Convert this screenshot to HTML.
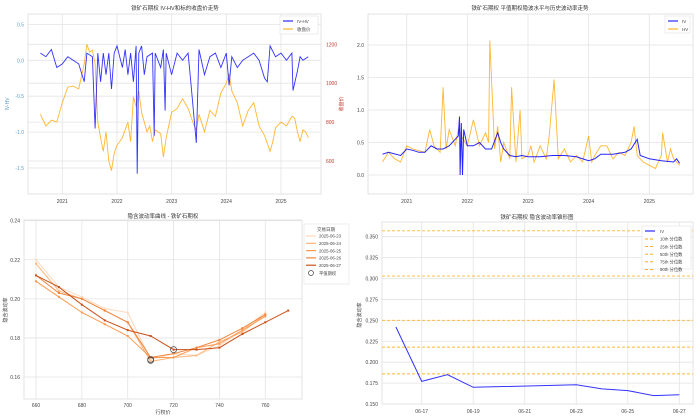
<!DOCTYPE html>
<html><head><meta charset="utf-8">
<style>
body{margin:0;background:#fff;}
svg{display:block;font-family:"Liberation Sans","Noto Sans CJK SC",sans-serif;}
</style></head>
<body>
<svg id="c" width="700" height="419" viewBox="0 0 700 419" xmlns="http://www.w3.org/2000/svg"></svg>
<script>
// ---------- Panel 1 data ----------
const p1PriceT=[2020.6,2020.7,2020.8,2020.9,2021.0,2021.1,2021.2,2021.3,2021.4,2021.45,2021.5,2021.55,2021.6,2021.65,2021.7,2021.75,2021.8,2021.85,2021.9,2021.95,2022.0,2022.1,2022.2,2022.25,2022.3,2022.35,2022.4,2022.45,2022.5,2022.55,2022.6,2022.65,2022.7,2022.8,2022.85,2022.9,2023.0,2023.1,2023.2,2023.3,2023.4,2023.45,2023.5,2023.6,2023.7,2023.8,2023.9,2024.0,2024.05,2024.1,2024.2,2024.3,2024.4,2024.5,2024.6,2024.7,2024.8,2024.85,2024.9,2025.0,2025.1,2025.2,2025.25,2025.3,2025.35,2025.4,2025.45,2025.5];
const p1Price=[840,780,810,800,900,980,985,970,1100,1200,1160,1170,1100,800,720,650,750,600,550,640,680,720,800,700,930,880,960,850,800,750,780,700,760,740,620,720,850,870,920,870,790,760,840,750,860,830,950,1000,1050,960,900,780,860,900,780,730,650,700,770,800,780,830,820,750,700,760,750,720];
const p1DiffT=[2020.6,2020.7,2020.8,2020.9,2021.0,2021.1,2021.3,2021.4,2021.45,2021.55,2021.6,2021.65,2021.7,2021.75,2021.8,2021.85,2021.9,2021.95,2022.0,2022.1,2022.15,2022.2,2022.25,2022.3,2022.35,2022.37,2022.4,2022.45,2022.5,2022.55,2022.65,2022.68,2022.7,2022.8,2022.85,2022.88,2022.9,2023.0,2023.1,2023.2,2023.3,2023.35,2023.45,2023.5,2023.6,2023.7,2023.8,2023.9,2024.0,2024.05,2024.1,2024.2,2024.3,2024.4,2024.5,2024.6,2024.7,2024.75,2024.8,2024.9,2025.0,2025.1,2025.2,2025.22,2025.3,2025.35,2025.4,2025.5];
const p1Diff=[0.1,0.05,0.15,-0.1,-0.05,0.05,-0.05,-0.3,0.1,0.05,-0.95,0.1,-0.3,0.1,-0.2,0.1,-0.4,0.1,0.2,-0.1,0.15,-0.2,0.1,-0.3,0.2,-1.58,0.1,0.2,-0.2,0.05,0.1,-1.05,0.1,-0.1,0.15,-0.7,0.1,-0.2,0.1,0.0,0.1,-0.3,-1.15,0.15,-0.2,0.05,0.1,-0.1,0.1,-0.35,0.05,-0.1,0.0,0.05,0.1,0.0,-0.25,-0.3,0.2,0.05,0.1,0.0,0.1,-0.42,-0.15,0.05,0.0,0.05];
const p1YTicks=[0.5,0.0,-0.5,-1.0,-1.5];
const p1RTicks=[1200,1000,800,600];
const yearTicks=[2021,2022,2023,2024,2025];
// ---------- Panel 2 data ----------
const p2HvT=[2020.6,2020.7,2020.8,2020.9,2021.0,2021.1,2021.3,2021.38,2021.45,2021.55,2021.6,2021.65,2021.7,2021.8,2021.85,2021.9,2022.0,2022.1,2022.2,2022.3,2022.35,2022.37,2022.45,2022.5,2022.55,2022.6,2022.7,2022.73,2022.8,2022.87,2022.9,2023.0,2023.05,2023.1,2023.2,2023.3,2023.35,2023.43,2023.5,2023.6,2023.7,2023.8,2023.9,2024.0,2024.05,2024.1,2024.2,2024.3,2024.4,2024.5,2024.6,2024.7,2024.75,2024.8,2024.9,2025.0,2025.1,2025.2,2025.22,2025.3,2025.35,2025.4,2025.5];
const p2Hv=[0.2,0.35,0.25,0.2,0.45,0.4,0.35,0.7,0.45,0.35,1.35,0.4,0.7,0.45,0.7,0.6,0.45,0.85,0.45,0.65,0.5,2.07,0.4,0.75,0.2,0.5,0.25,1.35,0.2,1.0,0.25,0.3,0.45,0.2,0.45,0.25,0.6,1.47,0.25,0.4,0.2,0.3,0.2,0.6,0.2,0.3,0.45,0.45,0.25,0.35,0.3,0.5,0.75,0.3,0.2,0.15,0.1,0.3,0.65,0.2,0.4,0.25,0.15];
const p2IvT=[2020.6,2020.7,2020.9,2021.0,2021.1,2021.2,2021.3,2021.4,2021.5,2021.6,2021.7,2021.8,2021.85,2021.87,2021.88,2021.9,2021.92,2021.94,2022.0,2022.1,2022.2,2022.3,2022.4,2022.5,2022.55,2022.6,2022.7,2022.8,2022.9,2023.0,2023.2,2023.4,2023.6,2023.8,2024.0,2024.1,2024.2,2024.4,2024.6,2024.7,2024.8,2024.85,2025.0,2025.2,2025.4,2025.45,2025.5];
const p2Iv=[0.32,0.35,0.3,0.4,0.38,0.35,0.35,0.45,0.4,0.4,0.45,0.55,0.6,0.9,0.0,0.8,0.0,0.7,0.45,0.45,0.5,0.4,0.4,0.65,0.5,0.4,0.3,0.28,0.3,0.28,0.28,0.3,0.3,0.28,0.22,0.25,0.32,0.32,0.35,0.4,0.55,0.3,0.25,0.22,0.2,0.25,0.18];
const p2YTicks=[0.0,0.5,1.0,1.5,2.0];
// ---------- Panel 3 data ----------
const strikes=[660,670,680,690,700,710,720,730,740,750,760,770];
const smileDates=["2025-06-23","2025-06-24","2025-06-25","2025-06-26","2025-06-27"];
const smile23=[0.220,0.206,0.201,0.195,0.193,0.169,0.172,0.171,0.176,0.184,0.193,null];
const smile24=[0.218,0.204,0.200,0.194,0.188,0.168,0.170,0.171,0.178,0.183,0.192,null];
const smile25=[0.209,0.201,0.193,0.187,0.181,0.170,0.170,0.175,0.177,0.184,0.191,null];
const smile26=[0.212,0.203,0.200,0.194,0.188,0.170,0.172,0.175,0.179,0.185,0.192,null];
const smile27=[0.212,0.206,0.197,0.189,0.184,0.181,0.174,0.174,0.175,0.182,0.188,0.194];
const atmStrikes=[710,710,720];
const atmIv=[0.169,0.1685,0.174];
const p3YTicks=[0.16,0.18,0.20,0.22,0.24];
const p3XTicks=[660,680,700,720,740,760];
// ---------- Panel 4 data ----------
const termDays=[16,17,18,19,23,24,25,26,27];
const termIv=[0.242,0.177,0.185,0.170,0.173,0.168,0.166,0.160,0.161];
const qLabels=["10th 分位数","25th 分位数","50th 分位数","75th 分位数","90th 分位数"];
const qValues=[0.186,0.218,0.250,0.303,0.357];
const p4YTicks=[0.150,0.175,0.200,0.225,0.250,0.275,0.300,0.325,0.350];
const p4XTicks=[17,19,21,23,25,27];

const NS="http://www.w3.org/2000/svg";
const svg=document.getElementById('c');
function mk(tag,attrs,parent,txt){const e=document.createElementNS(NS,tag);for(const k in attrs)e.setAttribute(k,attrs[k]);if(txt!==undefined)e.textContent=txt;(parent||svg).appendChild(e);return e;}
function lin(d0,d1,r0,r1){return v=>r0+(v-d0)/(d1-d0)*(r1-r0);}
function frame(x0,y0,x1,y1,name){
  const g=mk('g',{});
  mk('rect',{x:x0,y:y0,width:x1-x0,height:y1-y0,fill:'#fff',stroke:'#ddd','stroke-width':0.8},g);return g;}
function grid(g,x0,y0,x1,y1,xs,ys){
  xs.forEach(x=>mk('line',{x1:x,y1:y0,x2:x,y2:y1,stroke:'#e3e3e3','stroke-width':0.8},g));
  ys.forEach(y=>mk('line',{x1:x0,y1:y,x2:x1,y2:y,stroke:'#e3e3e3','stroke-width':0.8},g));}
function pathOf(xs,ys,fx,fy){let d='';xs.forEach((x,i)=>{if(ys[i]===null)return;d+=(d?'L':'M')+fx(x).toFixed(1)+','+fy(ys[i]).toFixed(1);});return d;}
function txt(g,x,y,s,opt){const o=Object.assign({x:x,y:y,'font-size':5,fill:'#444'},opt||{});return mk('text',o,g,s);}

// ===== Panel 1 =====
(function(){
  const X0=28,Y0=14,X1=321,Y1=194;
  const fx=lin(2021,2025,62.3,281),fy=lin(0,-1.5,60.3,168),fr=lin(1200,600,44.3,161);
  const g=frame(X0,Y0,X1,Y1,'iv-hv-price-chart');
  grid(g,X0,Y0,X1,Y1,yearTicks.map(fx),p1YTicks.map(fy).concat(p1RTicks.map(fr)));
  txt(g,175,10,'铁矿石期权 IV-HV和标的收盘价走势',{'text-anchor':'middle','font-size':5.5,fill:'#333'});
  p1YTicks.forEach(v=>txt(g,X0-4,fy(v)+2,v.toFixed(1),{'text-anchor':'end',fill:'#5a9fd0'}));
  p1RTicks.forEach(v=>txt(g,X1+5,fr(v)+2,v,{fill:'#c0392b'}));
  yearTicks.forEach(v=>txt(g,fx(v),203,v,{'text-anchor':'middle'}));
  txt(g,9,104,'IV-HV',{'text-anchor':'middle',fill:'#5a9fd0',transform:'rotate(-90 9 104)'});
  txt(g,343,104,'收盘价',{'text-anchor':'middle',fill:'#c0392b',transform:'rotate(-90 343 104)'});
  const pr=mk('path',{d:pathOf(p1PriceT,p1Price,fx,fr),fill:'none',stroke:'orange','stroke-width':0.9,opacity:0.8},g);
  
  const df=mk('path',{d:pathOf(p1DiffT,p1Diff,fx,fy),fill:'none',stroke:'blue','stroke-width':0.9,opacity:0.8},g);
  
  const lg=mk('g',{},g);
  mk('rect',{x:280,y:16,width:38,height:18,fill:'#fff',stroke:'#ddd','stroke-width':0.5},lg);
  mk('line',{x1:283,y1:21,x2:293,y2:21,stroke:'blue','stroke-width':1},lg);txt(lg,297,23,'IV-HV',{'font-size':4.5});
  mk('line',{x1:283,y1:29,x2:293,y2:29,stroke:'orange','stroke-width':1},lg);txt(lg,297,31,'收盘价',{'font-size':4.5});
})();

// ===== Panel 2 =====
(function(){
  const X0=368,Y0=14,X1=693,Y1=194;
  const fx=lin(2021,2025,406.7,649.3),fy=lin(0,2,175,45);
  const g=frame(X0,Y0,X1,Y1,'iv-hv-level-chart');
  grid(g,X0,Y0,X1,Y1,yearTicks.map(fx),p2YTicks.map(fy));
  txt(g,530,10,'铁矿石期权 平值期权隐波水平与历史波动率走势',{'text-anchor':'middle','font-size':5.5,fill:'#333'});
  p2YTicks.forEach(v=>txt(g,X0-4,fy(v)+2,v.toFixed(1),{'text-anchor':'end'}));
  yearTicks.forEach(v=>txt(g,fx(v),203,v,{'text-anchor':'middle'}));
  const hv=mk('path',{d:pathOf(p2HvT,p2Hv,fx,fy),fill:'none',stroke:'orange','stroke-width':0.9,opacity:0.8},g);
  
  const iv=mk('path',{d:pathOf(p2IvT,p2Iv,fx,fy),fill:'none',stroke:'blue','stroke-width':1,opacity:0.85},g);
  
  const lg=mk('g',{},g);
  mk('rect',{x:665,y:16,width:25,height:17,fill:'#fff',stroke:'#ddd','stroke-width':0.5},lg);
  mk('line',{x1:668,y1:21,x2:678,y2:21,stroke:'blue','stroke-width':1},lg);txt(lg,682,23,'IV',{'font-size':4.5});
  mk('line',{x1:668,y1:29,x2:678,y2:29,stroke:'orange','stroke-width':1},lg);txt(lg,682,31,'HV',{'font-size':4.5});
})();

// ===== Panel 3 =====
(function(){
  const X0=24,Y0=220,X1=302,Y1=399;
  const fx=lin(660,760,36,265.3),fy=lin(0.16,0.24,377,220.7);
  const g=frame(X0,Y0,X1,Y1,'volatility-smile-chart');
  grid(g,X0,Y0,X1,Y1,p3XTicks.map(fx),p3YTicks.map(fy));
  txt(g,163,218,'隐含波动率曲线 - 铁矿石期权',{'text-anchor':'middle','font-size':5.5,fill:'#333'});
  p3YTicks.forEach(v=>txt(g,X0-4,fy(v)+2,v.toFixed(2),{'text-anchor':'end'}));
  p3XTicks.forEach(v=>txt(g,fx(v),407,v,{'text-anchor':'middle'}));
  txt(g,163,414,'行权价',{'text-anchor':'middle'});
  txt(g,7,310,'隐含波动率',{'text-anchor':'middle',transform:'rotate(-90 7 310)'});
  const cols=['#fdd9bd','#fdb57a','#fd9a52','#ef8640','#c9521c'];
  const ser=[smile23,smile24,smile25,smile26,smile27];
  ser.forEach((s,k)=>{
    const p=mk('path',{d:pathOf(strikes,s,fx,fy),fill:'none',stroke:cols[k],'stroke-width':1},g);
    
    strikes.forEach((x,i)=>{if(s[i]===null)return;const c=mk('rect',{x:fx(x)-1,y:fy(s[i])-1,width:2,height:2,fill:cols[k]},g);
      });
  });
  atmStrikes.forEach((x,i)=>{const c=mk('circle',{cx:fx(x),cy:fy(atmIv[i]),r:3,fill:'none',stroke:'#444','stroke-width':0.7},g);
    });
  const lg=mk('g',{},g);
  mk('rect',{x:304,y:224,width:45,height:60,fill:'#fff',stroke:'#ddd','stroke-width':0.5},lg);
  txt(lg,326,231,'交易日期',{'text-anchor':'middle','font-size':4.5});
  smileDates.forEach((d,k)=>{const y=236+k*7.3;mk('line',{x1:306,y1:y,x2:316,y2:y,stroke:cols[k],'stroke-width':1.2},lg);txt(lg,319,y+1.7,d,{'font-size':4.3});});
  mk('circle',{cx:311,cy:273,r:2.5,fill:'none',stroke:'#444','stroke-width':0.7},lg);txt(lg,319,275,'平值期权',{'font-size':4.3});
})();

// ===== Panel 4 =====
(function(){
  const X0=382,Y0=222,X1=693,Y1=404;
  const fx=lin(17,27,421.7,679.3),fy=lin(0.15,0.35,404,236.7);
  const g=frame(X0,Y0,X1,Y1,'term-structure-chart');
  grid(g,X0,Y0,X1,Y1,p4XTicks.map(fx),p4YTicks.map(fy));
  txt(g,537,219,'铁矿石期权 隐含波动率锥形图',{'text-anchor':'middle','font-size':5.5,fill:'#333'});
  p4YTicks.forEach(v=>txt(g,X0-4,fy(v)+2,v.toFixed(3),{'text-anchor':'end'}));
  p4XTicks.forEach(v=>txt(g,fx(v),413,'06-'+v,{'text-anchor':'middle'}));
  txt(g,361,315,'隐含波动率',{'text-anchor':'middle',transform:'rotate(-90 361 315)'});
  qValues.forEach((v,i)=>{const l=mk('line',{x1:X0,y1:fy(v),x2:X1,y2:fy(v),stroke:'orange','stroke-width':0.9,'stroke-dasharray':'3,2',opacity:0.8},g);
    });
  const p=mk('path',{d:pathOf(termDays,termIv,fx,fy),fill:'none',stroke:'blue','stroke-width':1,opacity:0.8},g);
  
  const lg=mk('g',{},g);
  mk('rect',{x:642,y:226,width:49,height:43,fill:'#fff',stroke:'#ddd','stroke-width':0.5},lg);
  mk('line',{x1:645,y1:231,x2:655,y2:231,stroke:'blue','stroke-width':1},lg);txt(lg,660,233,'IV',{'font-size':4.3});
  qLabels.forEach((s,i)=>{const y=239+i*7.6;mk('line',{x1:645,y1:y,x2:655,y2:y,stroke:'orange','stroke-width':0.9,'stroke-dasharray':'3,2'},lg);txt(lg,660,y+1.7,s,{'font-size':4.3});});
})();
</script>
</body></html>
